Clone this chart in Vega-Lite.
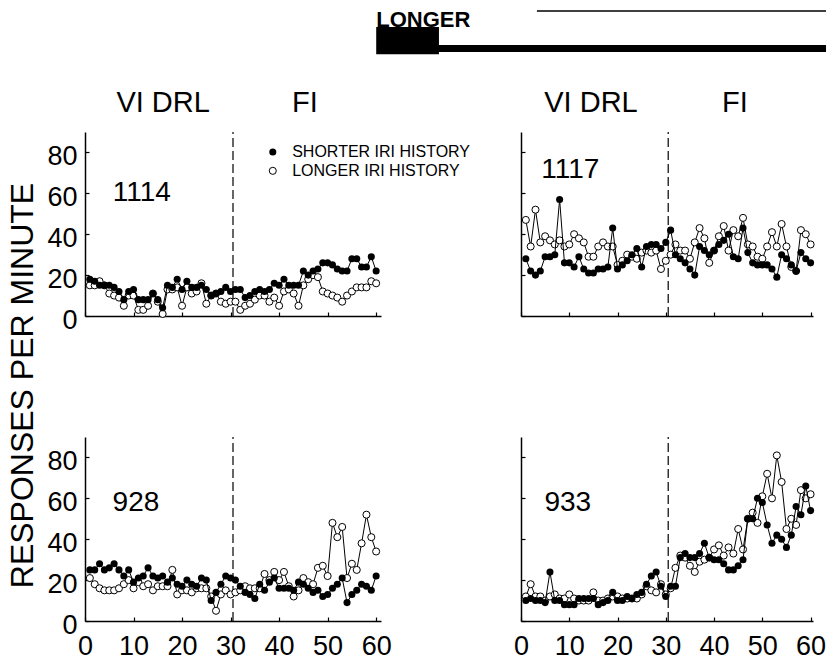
{
  "$schema": "https://vega.github.io/schema/vega-lite/v6.json",
  "autosize": {"type": "none"},
  "padding": {"left": 85, "top": 132, "right": 744, "bottom": 531},
  "background": "white",
  "config": {
    "font": "Liberation Sans",
    "view": {"stroke": null},
    "axis": {"domainColor": "black", "domainWidth": 1.5, "tickColor": "black", "tickWidth": 1.2, "tickSize": -4, "labelColor": "black", "labelFontSize": 27, "grid": false, "labelFlush": false, "labelOverlap": false}
  },
  "datasets": {
    "sessions": [
      {"bird":"1114","session":1,"shorter":18,"longer":15},{"bird":"1114","session":2,"shorter":17,"longer":15},{"bird":"1114","session":3,"shorter":15,"longer":17},{"bird":"1114","session":4,"shorter":15,"longer":15},{"bird":"1114","session":5,"shorter":15,"longer":11},{"bird":"1114","session":6,"shorter":14,"longer":10},{"bird":"1114","session":7,"shorter":12,"longer":9},{"bird":"1114","session":8,"shorter":8,"longer":5},{"bird":"1114","session":9,"shorter":12,"longer":10},{"bird":"1114","session":10,"shorter":13,"longer":10},
      {"bird":"1114","session":11,"shorter":8,"longer":3},{"bird":"1114","session":12,"shorter":8,"longer":3},{"bird":"1114","session":13,"shorter":8,"longer":5},{"bird":"1114","session":14,"shorter":11,"longer":11},{"bird":"1114","session":15,"shorter":8,"longer":7},{"bird":"1114","session":16,"shorter":4,"longer":1},{"bird":"1114","session":17,"shorter":15,"longer":13},{"bird":"1114","session":18,"shorter":14,"longer":13},{"bird":"1114","session":19,"shorter":18,"longer":14},{"bird":"1114","session":20,"shorter":13,"longer":5},
      {"bird":"1114","session":21,"shorter":17,"longer":14},{"bird":"1114","session":22,"shorter":14,"longer":11},{"bird":"1114","session":23,"shorter":14,"longer":12},{"bird":"1114","session":24,"shorter":15,"longer":16},{"bird":"1114","session":25,"shorter":13,"longer":6},{"bird":"1114","session":26,"shorter":10,"longer":10},{"bird":"1114","session":27,"shorter":11,"longer":11},{"bird":"1114","session":28,"shorter":12,"longer":7},{"bird":"1114","session":29,"shorter":14,"longer":6},{"bird":"1114","session":30,"shorter":12,"longer":7},
      {"bird":"1114","session":31,"shorter":13,"longer":7},{"bird":"1114","session":32,"shorter":13,"longer":3},{"bird":"1114","session":33,"shorter":9,"longer":5},{"bird":"1114","session":34,"shorter":10,"longer":6},{"bird":"1114","session":35,"shorter":12,"longer":8},{"bird":"1114","session":36,"shorter":13,"longer":10},{"bird":"1114","session":37,"shorter":12,"longer":10},{"bird":"1114","session":38,"shorter":13,"longer":7},{"bird":"1114","session":39,"shorter":16,"longer":9},{"bird":"1114","session":40,"shorter":15,"longer":5},
      {"bird":"1114","session":41,"shorter":18,"longer":12},{"bird":"1114","session":42,"shorter":15,"longer":13},{"bird":"1114","session":43,"shorter":15,"longer":11},{"bird":"1114","session":44,"shorter":15,"longer":5},{"bird":"1114","session":45,"shorter":22,"longer":15},{"bird":"1114","session":46,"shorter":20,"longer":18},{"bird":"1114","session":47,"shorter":22,"longer":20},{"bird":"1114","session":48,"shorter":23,"longer":19},{"bird":"1114","session":49,"shorter":26,"longer":12},{"bird":"1114","session":50,"shorter":26,"longer":11},
      {"bird":"1114","session":51,"shorter":25,"longer":10},{"bird":"1114","session":52,"shorter":23,"longer":9},{"bird":"1114","session":53,"shorter":22,"longer":7},{"bird":"1114","session":54,"shorter":22,"longer":10},{"bird":"1114","session":55,"shorter":28,"longer":12},{"bird":"1114","session":56,"shorter":28,"longer":14},{"bird":"1114","session":57,"shorter":24,"longer":14},{"bird":"1114","session":58,"shorter":24,"longer":14},{"bird":"1114","session":59,"shorter":29,"longer":17},{"bird":"1114","session":60,"shorter":22,"longer":16},

      {"bird":"1117","session":1,"shorter":28,"longer":47},{"bird":"1117","session":2,"shorter":22,"longer":34},{"bird":"1117","session":3,"shorter":20,"longer":52},{"bird":"1117","session":4,"shorter":22,"longer":36},{"bird":"1117","session":5,"shorter":29,"longer":39},{"bird":"1117","session":6,"shorter":29,"longer":37},{"bird":"1117","session":7,"shorter":30,"longer":35},{"bird":"1117","session":8,"shorter":57,"longer":37},{"bird":"1117","session":9,"shorter":26,"longer":34},{"bird":"1117","session":10,"shorter":26,"longer":35},
      {"bird":"1117","session":11,"shorter":24,"longer":40},{"bird":"1117","session":12,"shorter":29,"longer":38},{"bird":"1117","session":13,"shorter":23,"longer":36},{"bird":"1117","session":14,"shorter":21,"longer":29},{"bird":"1117","session":15,"shorter":21,"longer":29},{"bird":"1117","session":16,"shorter":23,"longer":34},{"bird":"1117","session":17,"shorter":23,"longer":36},{"bird":"1117","session":18,"shorter":24,"longer":34},{"bird":"1117","session":19,"shorter":43,"longer":34},{"bird":"1117","session":20,"shorter":23,"longer":25},
      {"bird":"1117","session":21,"shorter":25,"longer":27},{"bird":"1117","session":22,"shorter":27,"longer":30},{"bird":"1117","session":23,"shorter":30,"longer":29},{"bird":"1117","session":24,"shorter":33,"longer":28},{"bird":"1117","session":25,"shorter":24,"longer":31},{"bird":"1117","session":26,"shorter":34,"longer":32},{"bird":"1117","session":27,"shorter":35,"longer":31},{"bird":"1117","session":28,"shorter":35,"longer":32},{"bird":"1117","session":29,"shorter":33,"longer":23},{"bird":"1117","session":30,"shorter":36,"longer":27},
      {"bird":"1117","session":31,"shorter":42,"longer":30},{"bird":"1117","session":32,"shorter":30,"longer":35},{"bird":"1117","session":33,"shorter":28,"longer":32},{"bird":"1117","session":34,"shorter":26,"longer":32},{"bird":"1117","session":35,"shorter":23,"longer":28},{"bird":"1117","session":36,"shorter":20,"longer":36},{"bird":"1117","session":37,"shorter":34,"longer":43},{"bird":"1117","session":38,"shorter":32,"longer":38},{"bird":"1117","session":39,"shorter":30,"longer":26},{"bird":"1117","session":40,"shorter":32,"longer":32},
      {"bird":"1117","session":41,"shorter":35,"longer":39},{"bird":"1117","session":42,"shorter":37,"longer":44},{"bird":"1117","session":43,"shorter":40,"longer":32},{"bird":"1117","session":44,"shorter":29,"longer":42},{"bird":"1117","session":45,"shorter":28,"longer":39},{"bird":"1117","session":46,"shorter":43,"longer":48},{"bird":"1117","session":47,"shorter":31,"longer":35},{"bird":"1117","session":48,"shorter":26,"longer":34},{"bird":"1117","session":49,"shorter":25,"longer":29},{"bird":"1117","session":50,"shorter":25,"longer":28},
      {"bird":"1117","session":51,"shorter":25,"longer":34},{"bird":"1117","session":52,"shorter":23,"longer":41},{"bird":"1117","session":53,"shorter":19,"longer":34},{"bird":"1117","session":54,"shorter":30,"longer":45},{"bird":"1117","session":55,"shorter":28,"longer":34},{"bird":"1117","session":56,"shorter":25,"longer":24},{"bird":"1117","session":57,"shorter":22,"longer":22},{"bird":"1117","session":58,"shorter":31,"longer":42},{"bird":"1117","session":59,"shorter":28,"longer":40},{"bird":"1117","session":60,"shorter":26,"longer":35},

      {"bird":"928","session":1,"shorter":25,"longer":21},{"bird":"928","session":2,"shorter":25,"longer":18},{"bird":"928","session":3,"shorter":28,"longer":16},{"bird":"928","session":4,"shorter":25,"longer":15},{"bird":"928","session":5,"shorter":26,"longer":15},{"bird":"928","session":6,"shorter":28,"longer":15},{"bird":"928","session":7,"shorter":25,"longer":16},{"bird":"928","session":8,"shorter":22,"longer":18},{"bird":"928","session":9,"shorter":25,"longer":20},{"bird":"928","session":10,"shorter":19,"longer":16},
      {"bird":"928","session":11,"shorter":21,"longer":19},{"bird":"928","session":12,"shorter":22,"longer":17},{"bird":"928","session":13,"shorter":26,"longer":18},{"bird":"928","session":14,"shorter":22,"longer":15},{"bird":"928","session":15,"shorter":21,"longer":17},{"bird":"928","session":16,"shorter":22,"longer":17},{"bird":"928","session":17,"shorter":19,"longer":17},{"bird":"928","session":18,"shorter":21,"longer":25},{"bird":"928","session":19,"shorter":18,"longer":13},{"bird":"928","session":20,"shorter":17,"longer":15},
      {"bird":"928","session":21,"shorter":20,"longer":15},{"bird":"928","session":22,"shorter":18,"longer":14},{"bird":"928","session":23,"shorter":17,"longer":16},{"bird":"928","session":24,"shorter":21,"longer":16},{"bird":"928","session":25,"shorter":20,"longer":16},{"bird":"928","session":26,"shorter":10,"longer":12},{"bird":"928","session":27,"shorter":14,"longer":5},{"bird":"928","session":28,"shorter":18,"longer":13},{"bird":"928","session":29,"shorter":22,"longer":15},{"bird":"928","session":30,"shorter":21,"longer":13},
      {"bird":"928","session":31,"shorter":20,"longer":14},{"bird":"928","session":32,"shorter":17,"longer":15},{"bird":"928","session":33,"shorter":14,"longer":17},{"bird":"928","session":34,"shorter":13,"longer":16},{"bird":"928","session":35,"shorter":11,"longer":16},{"bird":"928","session":36,"shorter":18,"longer":16},{"bird":"928","session":37,"shorter":15,"longer":23},{"bird":"928","session":38,"shorter":19,"longer":20},{"bird":"928","session":39,"shorter":21,"longer":24},{"bird":"928","session":40,"shorter":16,"longer":20},
      {"bird":"928","session":41,"shorter":16,"longer":24},{"bird":"928","session":42,"shorter":16,"longer":17},{"bird":"928","session":43,"shorter":15,"longer":12},{"bird":"928","session":44,"shorter":19,"longer":15},{"bird":"928","session":45,"shorter":18,"longer":21},{"bird":"928","session":46,"shorter":16,"longer":19},{"bird":"928","session":47,"shorter":14,"longer":18},{"bird":"928","session":48,"shorter":15,"longer":26},{"bird":"928","session":49,"shorter":12,"longer":27},{"bird":"928","session":50,"shorter":13,"longer":22},
      {"bird":"928","session":51,"shorter":16,"longer":48},{"bird":"928","session":52,"shorter":18,"longer":41},{"bird":"928","session":53,"shorter":21,"longer":46},{"bird":"928","session":54,"shorter":9,"longer":21},{"bird":"928","session":55,"shorter":13,"longer":28},{"bird":"928","session":56,"shorter":15,"longer":25},{"bird":"928","session":57,"shorter":18,"longer":38},{"bird":"928","session":58,"shorter":17,"longer":52},{"bird":"928","session":59,"shorter":15,"longer":41},{"bird":"928","session":60,"shorter":22,"longer":34},

      {"bird":"933","session":1,"shorter":10,"longer":12},{"bird":"933","session":2,"shorter":11,"longer":18},{"bird":"933","session":3,"shorter":10,"longer":12},{"bird":"933","session":4,"shorter":10,"longer":12},{"bird":"933","session":5,"shorter":9,"longer":10},{"bird":"933","session":6,"shorter":24,"longer":12},{"bird":"933","session":7,"shorter":10,"longer":13},{"bird":"933","session":8,"shorter":10,"longer":11},{"bird":"933","session":9,"shorter":8,"longer":11},{"bird":"933","session":10,"shorter":8,"longer":13},
      {"bird":"933","session":11,"shorter":8,"longer":11},{"bird":"933","session":12,"shorter":11,"longer":10},{"bird":"933","session":13,"shorter":11,"longer":10},{"bird":"933","session":14,"shorter":11,"longer":10},{"bird":"933","session":15,"shorter":11,"longer":14},{"bird":"933","session":16,"shorter":8,"longer":10},{"bird":"933","session":17,"shorter":9,"longer":10},{"bird":"933","session":18,"shorter":10,"longer":11},{"bird":"933","session":19,"shorter":14,"longer":12},{"bird":"933","session":20,"shorter":10,"longer":12},
      {"bird":"933","session":21,"shorter":10,"longer":11},{"bird":"933","session":22,"shorter":12,"longer":11},{"bird":"933","session":23,"shorter":11,"longer":11},{"bird":"933","session":24,"shorter":13,"longer":11},{"bird":"933","session":25,"shorter":14,"longer":13},{"bird":"933","session":26,"shorter":18,"longer":17},{"bird":"933","session":27,"shorter":22,"longer":15},{"bird":"933","session":28,"shorter":24,"longer":14},{"bird":"933","session":29,"shorter":17,"longer":18},{"bird":"933","session":30,"shorter":12,"longer":13},
      {"bird":"933","session":31,"shorter":17,"longer":16},{"bird":"933","session":32,"shorter":17,"longer":26},{"bird":"933","session":33,"shorter":31,"longer":32},{"bird":"933","session":34,"shorter":33,"longer":31},{"bird":"933","session":35,"shorter":31,"longer":27},{"bird":"933","session":36,"shorter":31,"longer":24},{"bird":"933","session":37,"shorter":33,"longer":29},{"bird":"933","session":38,"shorter":38,"longer":30},{"bird":"933","session":39,"shorter":31,"longer":31},{"bird":"933","session":40,"shorter":30,"longer":35},
      {"bird":"933","session":41,"shorter":30,"longer":37},{"bird":"933","session":42,"shorter":28,"longer":32},{"bird":"933","session":43,"shorter":25,"longer":36},{"bird":"933","session":44,"shorter":25,"longer":33},{"bird":"933","session":45,"shorter":27,"longer":45},{"bird":"933","session":46,"shorter":30,"longer":35},{"bird":"933","session":47,"shorter":50,"longer":50},{"bird":"933","session":48,"shorter":50,"longer":53},{"bird":"933","session":49,"shorter":60,"longer":48},{"bird":"933","session":50,"shorter":58,"longer":61},
      {"bird":"933","session":51,"shorter":47,"longer":72},{"bird":"933","session":52,"shorter":38,"longer":60},{"bird":"933","session":53,"shorter":42,"longer":81},{"bird":"933","session":54,"shorter":40,"longer":68},{"bird":"933","session":55,"shorter":36,"longer":45},{"bird":"933","session":56,"shorter":42,"longer":50},{"bird":"933","session":57,"shorter":56,"longer":47},{"bird":"933","session":58,"shorter":52,"longer":64},{"bird":"933","session":59,"shorter":66,"longer":60},{"bird":"933","session":60,"shorter":54,"longer":62}
    ]
  },
  "columns": 2,
  "spacing": {"row": 121, "column": 140},
  "bounds": "flush",
  "concat": [
    {
      "width": 296, "height": 184,
      "data": {"name": "sessions"},
      "transform": [{"filter": "datum.bird == '1114'"}],
      "layer": [
        {"mark": {"type": "line", "color": "black", "strokeWidth": 1},
         "encoding": {"x": {"field": "session", "type": "quantitative", "scale": {"domain": [0, 61], "nice": false}, "title": null,
                            "axis": {"values": [0,5,10,15,20,25,30,35,40,45,50,55,60], "labels": false, "labelFlush": false}},
                      "y": {"field": "longer", "type": "quantitative", "scale": {"domain": [0, 90], "nice": false}, "title": "RESPONSES PER MINUTE",
                            "axis": {"values": [0,10,20,30,40,50,60,70,80,90], "labelExpr": "(datum.value % 20 == 0 && datum.value < 90) ? datum.label : ''", "labelPadding": 12, "labelOffset": 4, "labelFlush": false,
                                     "titleFontSize": 32, "titleFontWeight": "normal", "titleColor": "black", "titleX": -63, "titleY": 253, "titleAngle": -90, "titleAlign": "center", "titleBaseline": "middle"}}}},
        {"data": {"values": [{}]}, "mark": {"type": "rule", "strokeDash": [9, 4], "strokeWidth": 1.2, "color": "black"},
         "encoding": {"x": {"datum": 30.5, "type": "quantitative", "scale": {"domain": [0, 61], "nice": false}},
                      "y": {"datum": 0, "type": "quantitative", "scale": {"domain": [0, 90], "nice": false}}, "y2": {"datum": 90}}},
        {"mark": {"type": "point", "filled": true, "fill": "white", "stroke": "black", "strokeWidth": 1, "size": 50, "opacity": 1},
         "encoding": {"x": {"field": "session", "type": "quantitative", "scale": {"domain": [0, 61], "nice": false}},
                      "y": {"field": "longer", "type": "quantitative", "scale": {"domain": [0, 90], "nice": false}}}},
        {"mark": {"type": "line", "color": "black", "strokeWidth": 1},
         "encoding": {"x": {"field": "session", "type": "quantitative", "scale": {"domain": [0, 61], "nice": false}},
                      "y": {"field": "shorter", "type": "quantitative", "scale": {"domain": [0, 90], "nice": false}}}},
        {"mark": {"type": "circle", "color": "black", "size": 50, "opacity": 1},
         "encoding": {"x": {"field": "session", "type": "quantitative", "scale": {"domain": [0, 61], "nice": false}},
                      "y": {"field": "shorter", "type": "quantitative", "scale": {"domain": [0, 90], "nice": false}}}},
        {"data": {"values": [{}]}, "mark": {"type": "text", "fontSize": 28, "color": "black", "align": "center", "baseline": "middle"},
         "encoding": {"x": {"datum": 11.7, "type": "quantitative", "scale": {"domain": [0, 61], "nice": false}},
                      "y": {"datum": 60.2, "type": "quantitative", "scale": {"domain": [0, 90], "nice": false}}, "text": {"value": "1114"}}},
        {"data": {"values": [{}]}, "mark": {"type": "text", "fontSize": 29, "color": "black", "align": "center", "baseline": "middle"},
         "encoding": {"x": {"datum": 16.1, "type": "quantitative", "scale": {"domain": [0, 61], "nice": false}},
                      "y": {"datum": 104.2, "type": "quantitative", "scale": {"domain": [0, 90], "nice": false}}, "text": {"value": "VI DRL"}}},
        {"data": {"values": [{}]}, "mark": {"type": "text", "fontSize": 29, "color": "black", "align": "center", "baseline": "middle"},
         "encoding": {"x": {"datum": 45.3, "type": "quantitative", "scale": {"domain": [0, 61], "nice": false}},
                      "y": {"datum": 104.2, "type": "quantitative", "scale": {"domain": [0, 90], "nice": false}}, "text": {"value": "FI"}}},
        {"data": {"values": [{}]}, "mark": {"type": "circle", "color": "black", "size": 50, "opacity": 1},
         "encoding": {"x": {"datum": 38.7, "type": "quantitative", "scale": {"domain": [0, 61], "nice": false}},
                      "y": {"datum": 80.2, "type": "quantitative", "scale": {"domain": [0, 90], "nice": false}}}},
        {"data": {"values": [{}]}, "mark": {"type": "point", "filled": true, "fill": "white", "stroke": "black", "strokeWidth": 1, "size": 50, "opacity": 1},
         "encoding": {"x": {"datum": 38.7, "type": "quantitative", "scale": {"domain": [0, 61], "nice": false}},
                      "y": {"datum": 71, "type": "quantitative", "scale": {"domain": [0, 90], "nice": false}}}},
        {"data": {"values": [{}]}, "mark": {"type": "text", "fontSize": 16, "color": "black", "align": "left", "baseline": "middle"},
         "encoding": {"x": {"datum": 42.7, "type": "quantitative", "scale": {"domain": [0, 61], "nice": false}},
                      "y": {"datum": 80.2, "type": "quantitative", "scale": {"domain": [0, 90], "nice": false}}, "text": {"value": "SHORTER IRI HISTORY"}}},
        {"data": {"values": [{}]}, "mark": {"type": "text", "fontSize": 16, "color": "black", "align": "left", "baseline": "middle"},
         "encoding": {"x": {"datum": 42.7, "type": "quantitative", "scale": {"domain": [0, 61], "nice": false}},
                      "y": {"datum": 71, "type": "quantitative", "scale": {"domain": [0, 90], "nice": false}}, "text": {"value": "LONGER IRI HISTORY"}}}
      ]
    },
    {
      "width": 292, "height": 184,
      "data": {"name": "sessions"},
      "transform": [{"filter": "datum.bird == '1117'"}],
      "layer": [
        {"mark": {"type": "line", "color": "black", "strokeWidth": 1},
         "encoding": {"x": {"field": "session", "type": "quantitative", "scale": {"domain": [0, 60.5], "nice": false}, "title": null,
                            "axis": {"values": [0,5,10,15,20,25,30,35,40,45,50,55,60], "labels": false, "labelFlush": false}},
                      "y": {"field": "longer", "type": "quantitative", "scale": {"domain": [0, 90], "nice": false}, "title": null,
                            "axis": {"values": [0,10,20,30,40,50,60,70,80,90], "labels": false}}}},
        {"data": {"values": [{}]}, "mark": {"type": "rule", "strokeDash": [9, 4], "strokeWidth": 1.2, "color": "black"},
         "encoding": {"x": {"datum": 30.5, "type": "quantitative", "scale": {"domain": [0, 60.5], "nice": false}},
                      "y": {"datum": 0, "type": "quantitative", "scale": {"domain": [0, 90], "nice": false}}, "y2": {"datum": 90}}},
        {"mark": {"type": "point", "filled": true, "fill": "white", "stroke": "black", "strokeWidth": 1, "size": 50, "opacity": 1},
         "encoding": {"x": {"field": "session", "type": "quantitative", "scale": {"domain": [0, 60.5], "nice": false}},
                      "y": {"field": "longer", "type": "quantitative", "scale": {"domain": [0, 90], "nice": false}}}},
        {"mark": {"type": "line", "color": "black", "strokeWidth": 1},
         "encoding": {"x": {"field": "session", "type": "quantitative", "scale": {"domain": [0, 60.5], "nice": false}},
                      "y": {"field": "shorter", "type": "quantitative", "scale": {"domain": [0, 90], "nice": false}}}},
        {"mark": {"type": "circle", "color": "black", "size": 50, "opacity": 1},
         "encoding": {"x": {"field": "session", "type": "quantitative", "scale": {"domain": [0, 60.5], "nice": false}},
                      "y": {"field": "shorter", "type": "quantitative", "scale": {"domain": [0, 90], "nice": false}}}},
        {"data": {"values": [{}]}, "mark": {"type": "text", "fontSize": 28, "color": "black", "align": "center", "baseline": "middle"},
         "encoding": {"x": {"datum": 10.2, "type": "quantitative", "scale": {"domain": [0, 60.5], "nice": false}},
                      "y": {"datum": 71.4, "type": "quantitative", "scale": {"domain": [0, 90], "nice": false}}, "text": {"value": "1117"}}},
        {"data": {"values": [{}]}, "mark": {"type": "text", "fontSize": 29, "color": "black", "align": "center", "baseline": "middle"},
         "encoding": {"x": {"datum": 14.5, "type": "quantitative", "scale": {"domain": [0, 60.5], "nice": false}},
                      "y": {"datum": 104.2, "type": "quantitative", "scale": {"domain": [0, 90], "nice": false}}, "text": {"value": "VI DRL"}}},
        {"data": {"values": [{}]}, "mark": {"type": "text", "fontSize": 29, "color": "black", "align": "center", "baseline": "middle"},
         "encoding": {"x": {"datum": 44.3, "type": "quantitative", "scale": {"domain": [0, 60.5], "nice": false}},
                      "y": {"datum": 104.2, "type": "quantitative", "scale": {"domain": [0, 90], "nice": false}}, "text": {"value": "FI"}}},
        {"data": {"values": [{}]}, "mark": {"type": "rule", "strokeWidth": 1.5, "color": "black"},
         "encoding": {"x": {"datum": 3.3, "type": "quantitative", "scale": {"domain": [0, 60.5], "nice": false}}, "x2": {"datum": 63.2},
                      "y": {"datum": 149.2, "type": "quantitative", "scale": {"domain": [0, 90], "nice": false}}}},
        {"data": {"values": [{}]}, "mark": {"type": "rule", "strokeWidth": 7, "color": "black"},
         "encoding": {"x": {"datum": -20.9, "type": "quantitative", "scale": {"domain": [0, 60.5], "nice": false}}, "x2": {"datum": 63.2},
                      "y": {"datum": 130.9, "type": "quantitative", "scale": {"domain": [0, 90], "nice": false}}}},
        {"data": {"values": [{}]}, "mark": {"type": "rect", "color": "black"},
         "encoding": {"x": {"datum": -30, "type": "quantitative", "scale": {"domain": [0, 60.5], "nice": false}}, "x2": {"datum": -17},
                      "y": {"datum": 141.4, "type": "quantitative", "scale": {"domain": [0, 90], "nice": false}}, "y2": {"datum": 128}}},
        {"data": {"values": [{}]}, "mark": {"type": "text", "fontSize": 22, "fontWeight": "bold", "color": "black", "align": "left", "baseline": "alphabetic"},
         "encoding": {"x": {"datum": -30, "type": "quantitative", "scale": {"domain": [0, 60.5], "nice": false}},
                      "y": {"datum": 141.4, "type": "quantitative", "scale": {"domain": [0, 90], "nice": false}}, "text": {"value": "LONGER"}}}
      ]
    },
    {
      "width": 296, "height": 184,
      "data": {"name": "sessions"},
      "transform": [{"filter": "datum.bird == '928'"}],
      "layer": [
        {"mark": {"type": "line", "color": "black", "strokeWidth": 1},
         "encoding": {"x": {"field": "session", "type": "quantitative", "scale": {"domain": [0, 61], "nice": false}, "title": null,
                            "axis": {"values": [0,5,10,15,20,25,30,35,40,45,50,55,60], "labelExpr": "datum.value % 10 == 0 ? datum.label : ''", "labelPadding": 16, "labelFlush": false}},
                      "y": {"field": "longer", "type": "quantitative", "scale": {"domain": [0, 90], "nice": false}, "title": null,
                            "axis": {"values": [0,10,20,30,40,50,60,70,80,90], "labelExpr": "(datum.value % 20 == 0 && datum.value < 90) ? datum.label : ''", "labelPadding": 12, "labelOffset": 4, "labelFlush": false}}}},
        {"data": {"values": [{}]}, "mark": {"type": "rule", "strokeDash": [9, 4], "strokeWidth": 1.2, "color": "black"},
         "encoding": {"x": {"datum": 30.5, "type": "quantitative", "scale": {"domain": [0, 61], "nice": false}},
                      "y": {"datum": 0, "type": "quantitative", "scale": {"domain": [0, 90], "nice": false}}, "y2": {"datum": 90}}},
        {"mark": {"type": "point", "filled": true, "fill": "white", "stroke": "black", "strokeWidth": 1, "size": 50, "opacity": 1},
         "encoding": {"x": {"field": "session", "type": "quantitative", "scale": {"domain": [0, 61], "nice": false}},
                      "y": {"field": "longer", "type": "quantitative", "scale": {"domain": [0, 90], "nice": false}}}},
        {"mark": {"type": "line", "color": "black", "strokeWidth": 1},
         "encoding": {"x": {"field": "session", "type": "quantitative", "scale": {"domain": [0, 61], "nice": false}},
                      "y": {"field": "shorter", "type": "quantitative", "scale": {"domain": [0, 90], "nice": false}}}},
        {"mark": {"type": "circle", "color": "black", "size": 50, "opacity": 1},
         "encoding": {"x": {"field": "session", "type": "quantitative", "scale": {"domain": [0, 61], "nice": false}},
                      "y": {"field": "shorter", "type": "quantitative", "scale": {"domain": [0, 90], "nice": false}}}},
        {"data": {"values": [{}]}, "mark": {"type": "text", "fontSize": 28, "color": "black", "align": "center", "baseline": "middle"},
         "encoding": {"x": {"datum": 10.5, "type": "quantitative", "scale": {"domain": [0, 61], "nice": false}},
                      "y": {"datum": 57.7, "type": "quantitative", "scale": {"domain": [0, 90], "nice": false}}, "text": {"value": "928"}}}
      ]
    },
    {
      "width": 292, "height": 184,
      "data": {"name": "sessions"},
      "transform": [{"filter": "datum.bird == '933'"}],
      "layer": [
        {"mark": {"type": "line", "color": "black", "strokeWidth": 1},
         "encoding": {"x": {"field": "session", "type": "quantitative", "scale": {"domain": [0, 60.5], "nice": false}, "title": null,
                            "axis": {"values": [0,5,10,15,20,25,30,35,40,45,50,55,60], "labelExpr": "datum.value % 10 == 0 ? datum.label : ''", "labelPadding": 16, "labelFlush": false}},
                      "y": {"field": "longer", "type": "quantitative", "scale": {"domain": [0, 90], "nice": false}, "title": null,
                            "axis": {"values": [0,10,20,30,40,50,60,70,80,90], "labels": false}}}},
        {"data": {"values": [{}]}, "mark": {"type": "rule", "strokeDash": [9, 4], "strokeWidth": 1.2, "color": "black"},
         "encoding": {"x": {"datum": 30.5, "type": "quantitative", "scale": {"domain": [0, 60.5], "nice": false}},
                      "y": {"datum": 0, "type": "quantitative", "scale": {"domain": [0, 90], "nice": false}}, "y2": {"datum": 90}}},
        {"mark": {"type": "point", "filled": true, "fill": "white", "stroke": "black", "strokeWidth": 1, "size": 50, "opacity": 1},
         "encoding": {"x": {"field": "session", "type": "quantitative", "scale": {"domain": [0, 60.5], "nice": false}},
                      "y": {"field": "longer", "type": "quantitative", "scale": {"domain": [0, 90], "nice": false}}}},
        {"mark": {"type": "line", "color": "black", "strokeWidth": 1},
         "encoding": {"x": {"field": "session", "type": "quantitative", "scale": {"domain": [0, 60.5], "nice": false}},
                      "y": {"field": "shorter", "type": "quantitative", "scale": {"domain": [0, 90], "nice": false}}}},
        {"mark": {"type": "circle", "color": "black", "size": 50, "opacity": 1},
         "encoding": {"x": {"field": "session", "type": "quantitative", "scale": {"domain": [0, 60.5], "nice": false}},
                      "y": {"field": "shorter", "type": "quantitative", "scale": {"domain": [0, 90], "nice": false}}}},
        {"data": {"values": [{}]}, "mark": {"type": "text", "fontSize": 28, "color": "black", "align": "center", "baseline": "middle"},
         "encoding": {"x": {"datum": 9.7, "type": "quantitative", "scale": {"domain": [0, 60.5], "nice": false}},
                      "y": {"datum": 57.7, "type": "quantitative", "scale": {"domain": [0, 90], "nice": false}}, "text": {"value": "933"}}}
      ]
    }
  ]
}
